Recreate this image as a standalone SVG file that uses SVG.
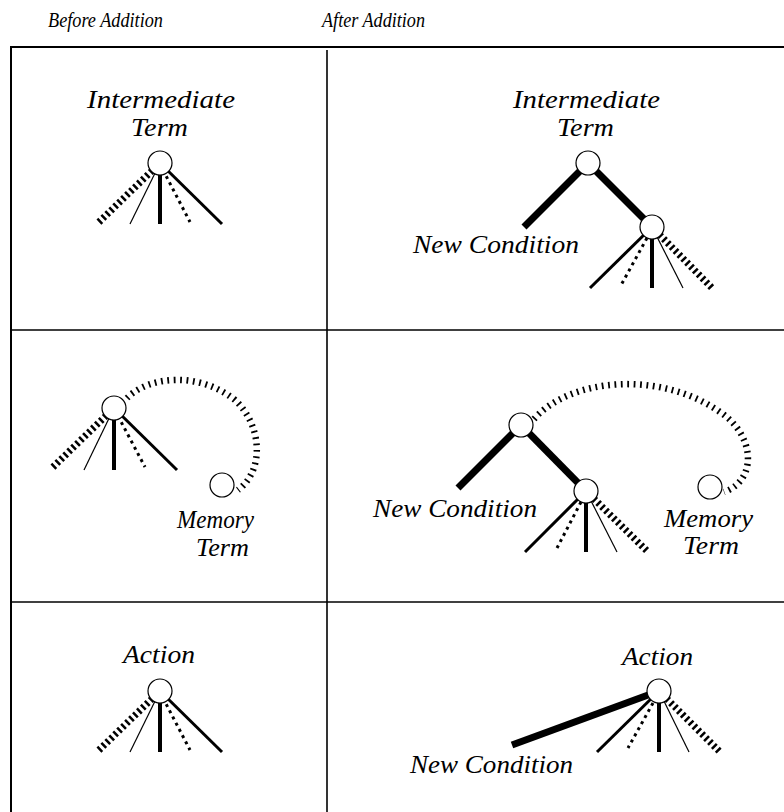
<svg xmlns="http://www.w3.org/2000/svg" width="784" height="812" viewBox="0 0 784 812">
<style>
text{font-family:"Liberation Serif","Times New Roman",serif;font-style:italic;fill:#000}
.hdr{font-size:21px}
.lbl{font-size:26px}
.frame{stroke:#000;fill:none}
.node{fill:#fff;stroke:#000;stroke-width:1.2}
.thin{stroke:#000;stroke-width:1.2;fill:none}
.solid{stroke:#000;stroke-width:3;fill:none}
.bar{stroke:#000;stroke-width:4;fill:none}
.heavy{stroke:#000;stroke-width:7;fill:none}
.dots{stroke:#000;stroke-width:3;stroke-dasharray:3 4;fill:none}
.hatch{stroke:#000;stroke-width:7;stroke-dasharray:2.5 3;fill:none}
.tick{stroke:#000;stroke-width:6.5;stroke-dasharray:1.8 4.6;fill:none}
</style>

<g id="frame">
<line class="frame" x1="10" y1="47" x2="784" y2="47" stroke-width="2.2"/>
<line class="frame" x1="11" y1="46" x2="11" y2="812" stroke-width="2"/>
<line class="frame" x1="327" y1="50" x2="327" y2="812" stroke-width="1.6"/>
<line class="frame" x1="11" y1="330" x2="784" y2="330" stroke-width="1.6"/>
<line class="frame" x1="11" y1="602" x2="784" y2="602" stroke-width="1.6"/>
</g>

<g id="headers">
<text class="hdr" x="48" y="27" textLength="115" lengthAdjust="spacingAndGlyphs">Before Addition</text>
<text class="hdr" x="322" y="27" textLength="103" lengthAdjust="spacingAndGlyphs">After Addition</text>
</g>

<g id="connectors">
<!-- top-left -->
<line class="hatch" x1="160" y1="163" x2="97" y2="224"/>
<line class="thin" x1="160" y1="163" x2="130" y2="224"/>
<line class="bar" x1="160" y1="163" x2="160" y2="224"/>
<line class="dots" x1="163" y1="170" x2="190" y2="222"/>
<line class="solid" x1="160" y1="163" x2="222" y2="224"/>
<!-- top-right -->
<line class="heavy" x1="588" y1="163" x2="524" y2="227"/>
<line class="heavy" x1="588" y1="163" x2="652" y2="227"/>
<line class="solid" x1="652" y1="227" x2="590" y2="288"/>
<line class="dots" x1="647" y1="238" x2="620" y2="287"/>
<line class="bar" x1="652" y1="227" x2="652" y2="288"/>
<line class="thin" x1="652" y1="227" x2="683" y2="288"/>
<line class="hatch" x1="652" y1="227" x2="713" y2="289"/>
<!-- middle-left -->
<line class="hatch" x1="114" y1="408" x2="51" y2="469"/>
<line class="thin" x1="114" y1="408" x2="84" y2="470"/>
<line class="bar" x1="114" y1="408" x2="114" y2="470"/>
<line class="dots" x1="118" y1="416" x2="145" y2="467"/>
<line class="solid" x1="114" y1="408" x2="177" y2="470"/>
<path class="tick" d="M127,398 C150,375 200,372 235,400 C262,425 265,470 238,490"/>
<!-- middle-right -->
<line class="heavy" x1="521" y1="425" x2="458" y2="488"/>
<line class="heavy" x1="521" y1="425" x2="586" y2="491"/>
<line class="solid" x1="586" y1="491" x2="525" y2="552"/>
<line class="dots" x1="581" y1="502" x2="557" y2="548"/>
<line class="bar" x1="586" y1="491" x2="586" y2="552"/>
<line class="thin" x1="586" y1="491" x2="617" y2="552"/>
<line class="hatch" x1="586" y1="491" x2="648" y2="552"/>
<path class="tick" d="M534,419 C570,378 660,370 720,412 C755,435 758,480 724,492"/>
<!-- bottom-left -->
<line class="hatch" x1="160" y1="691" x2="97" y2="752"/>
<line class="thin" x1="160" y1="691" x2="130" y2="752"/>
<line class="bar" x1="160" y1="691" x2="160" y2="752"/>
<line class="dots" x1="163" y1="698" x2="190" y2="750"/>
<line class="solid" x1="160" y1="691" x2="222" y2="752"/>
<!-- bottom-right -->
<line class="heavy" x1="659" y1="691" x2="512" y2="745"/>
<line class="solid" x1="659" y1="691" x2="597" y2="752"/>
<line class="dots" x1="653" y1="703" x2="628" y2="748"/>
<line class="bar" x1="659" y1="691" x2="659" y2="752"/>
<line class="thin" x1="659" y1="691" x2="689" y2="752"/>
<line class="hatch" x1="659" y1="691" x2="721" y2="753"/>
</g>

<g id="intermediate-before">
<circle class="node" cx="160" cy="163" r="12"/>
<text class="lbl" x="87" y="108" textLength="148" lengthAdjust="spacingAndGlyphs">Intermediate</text>
<text class="lbl" x="131" y="136" textLength="57" lengthAdjust="spacingAndGlyphs">Term</text>
</g>

<g id="intermediate-after">
<circle class="node" cx="588" cy="163" r="12"/>
<text class="lbl" x="513" y="108" textLength="147" lengthAdjust="spacingAndGlyphs">Intermediate</text>
<text class="lbl" x="557" y="136" textLength="57" lengthAdjust="spacingAndGlyphs">Term</text>
</g>

<g id="new-condition-top">
<circle class="node" cx="652" cy="227" r="12"/>
<text class="lbl" x="413" y="253" textLength="166" lengthAdjust="spacingAndGlyphs">New Condition</text>
</g>

<g id="memory-before">
<circle class="node" cx="114" cy="408" r="12"/>
<circle class="node" cx="222" cy="485" r="12"/>
<text class="lbl" x="177" y="528" textLength="77" lengthAdjust="spacingAndGlyphs">Memory</text>
<text class="lbl" x="196" y="556" textLength="53" lengthAdjust="spacingAndGlyphs">Term</text>
</g>

<g id="memory-after">
<circle class="node" cx="521" cy="425" r="12"/>
<circle class="node" cx="586" cy="491" r="12"/>
<circle class="node" cx="710" cy="487" r="12"/>
<text class="lbl" x="373" y="517" textLength="164" lengthAdjust="spacingAndGlyphs">New Condition</text>
<text class="lbl" x="664" y="527" textLength="89" lengthAdjust="spacingAndGlyphs">Memory</text>
<text class="lbl" x="683" y="554" textLength="56" lengthAdjust="spacingAndGlyphs">Term</text>
</g>

<g id="action-before">
<circle class="node" cx="160" cy="691" r="12"/>
<text class="lbl" x="123" y="663" textLength="72" lengthAdjust="spacingAndGlyphs">Action</text>
</g>

<g id="action-after">
<circle class="node" cx="659" cy="691" r="12"/>
<text class="lbl" x="622" y="665" textLength="71" lengthAdjust="spacingAndGlyphs">Action</text>
<text class="lbl" x="410" y="773" textLength="163" lengthAdjust="spacingAndGlyphs">New Condition</text>
</g>
</svg>
